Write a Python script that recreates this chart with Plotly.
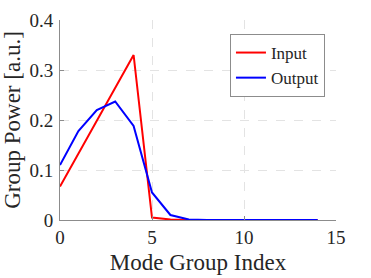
import plotly.graph_objects as go

mode_index = list(range(15))
input_power = [0.067, 0.133, 0.200, 0.267, 0.330, 0.005, 0.001, 0.0, 0.0, 0.0, 0.0, 0.0, 0.0, 0.0, 0.0]
output_power = [0.110, 0.178, 0.220, 0.237, 0.188, 0.055, 0.010, 0.001, 0.0, 0.0, 0.0, 0.0, 0.0, 0.0, 0.0]
x_ticks = [0, 5, 10, 15]
y_ticks = [0, 0.1, 0.2, 0.3, 0.4]
y_tick_labels = ["0", "0.1", "0.2", "0.3", "0.4"]

font_family = "Liberation Serif, DejaVu Serif, serif"

fig = go.Figure()
fig.add_trace(go.Scatter(x=mode_index, y=input_power, mode="lines", name="Input",
                         line=dict(color="#ff0000", width=2)))
fig.add_trace(go.Scatter(x=mode_index, y=output_power, mode="lines", name="Output",
                         line=dict(color="#0000ff", width=2)))

axis_common = dict(
    showgrid=True, gridcolor="#e3e3e3", griddash="dash", gridwidth=1,
    showline=True, linecolor="#8c8c8c", linewidth=1,
    ticks="inside", ticklen=4, tickcolor="#8c8c8c",
    zeroline=False, automargin=False,
    tickfont=dict(size=19, color="#262626", family=font_family),
)

fig.update_layout(
    width=371, height=278,
    margin=dict(l=60, r=35, t=20, b=58),
    paper_bgcolor="white", plot_bgcolor="white",
    font=dict(family=font_family, color="#262626", size=19),
    showlegend=True,
    legend=dict(x=0.96, y=0.93, xanchor="right", yanchor="top",
                bgcolor="white", bordercolor="#8c8c8c", borderwidth=1,
                font=dict(size=17, family=font_family, color="#262626"),
                tracegroupgap=0, itemwidth=30),
    xaxis=dict(range=[0, 15], tickvals=x_ticks,
               title=dict(text="Mode Group Index", font=dict(size=23), standoff=7),
               **axis_common),
    yaxis=dict(range=[0, 0.4], tickvals=y_ticks, ticktext=y_tick_labels,
               ticklabelstandoff=2,
               title=dict(text="Group Power [a.u.]", font=dict(size=23), standoff=2),
               **axis_common),
)

fig.write_html("out.html", config={"displayModeBar": False},
               post_script="document.body.style.margin='0';")
